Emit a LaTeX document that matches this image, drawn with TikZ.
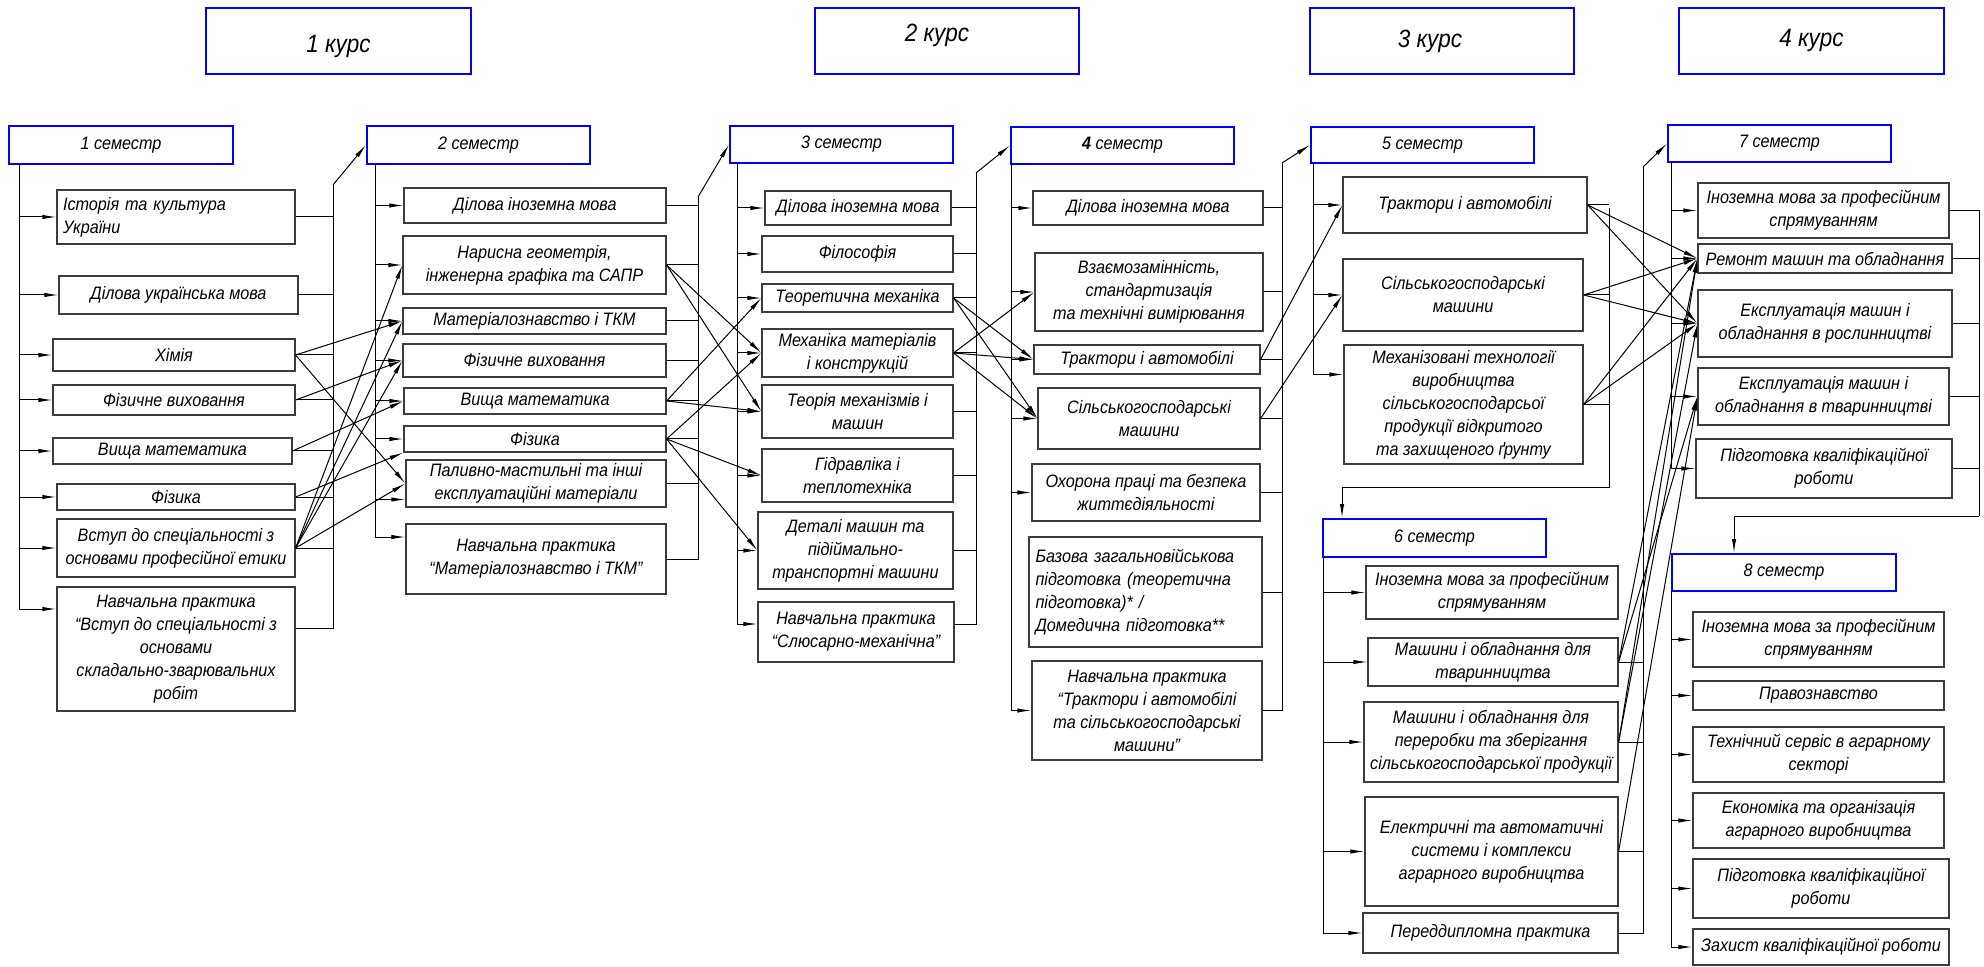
\documentclass[tikz,border=0pt]{standalone}
\usepackage{fontspec}
\setmainfont{Liberation Sans}[FakeStretch=0.9]
\usepackage{tikz}
\usetikzlibrary{arrows.meta}
\definecolor{boxgray}{RGB}{60,60,60}
\newcommand\subjbox[7][]{% options, name, x1, y1, x2, y2, text
  \node[subj,#1,minimum width={(#5-#3)*0.5pt},minimum height={(#6-#4)*0.5pt}]
    (#2) at ({(#3+#5)/2},{(#4+#6)/2}) {#7};
}
\begin{document}
\begin{tikzpicture}[x=0.5pt,y=-0.5pt,line width=0.5pt,
    subj/.style={draw=boxgray,line width=0.6pt,inner sep=1pt,align=center,
      font=\itshape\fontsize{9}{11.5}\selectfont},
    sembox/.style={draw=blue,line width=1pt},
    coursebox/.style={draw=blue,line width=1pt},
    coursetext/.style={font=\itshape\fontsize{12.5}{14}\selectfont},
    arr/.style={-{Latex[length=7pt,width=2.2pt]}}]
  \useasboundingbox (0,0) rectangle (1984,967);

  % courses
  \subjbox[coursebox,label={[coursetext,yshift=-3pt]center:1 курс}]{c1}{206}{8}{471}{74}{}
  \subjbox[coursebox,label={[coursetext,xshift=-5pt,yshift=3pt]center:2 курс}]{c2}{815}{8}{1079}{74}{}
  \subjbox[coursebox,label={[coursetext,xshift=-6pt]center:3 курс}]{c3}{1310}{8}{1574}{74}{}
  \subjbox[coursebox,label={[coursetext]center:4 курс}]{c4}{1679}{8}{1944}{74}{}

  % semesters
  \subjbox[sembox]{sem1}{9}{126}{233}{164}{1 семестр}
  \subjbox[sembox]{sem2}{367}{126}{590}{164}{2 семестр}
  \subjbox[sembox]{sem3}{730}{126}{953}{163}{3 семестр}
  \subjbox[sembox]{sem4}{1011}{127}{1234}{164}{\textbf{4} семестр}
  \subjbox[sembox]{sem5}{1311}{127}{1534}{163}{5 семестр}
  \subjbox[sembox]{sem6}{1323}{519}{1546}{557}{6 семестр}
  \subjbox[sembox]{sem7}{1668}{125}{1891}{162}{7 семестр}
  \subjbox[sembox]{sem8}{1672}{554}{1896}{591}{8 семестр}

  % semester 1
  \subjbox[align=left,text width=113pt]{s1h}{57}{190}{295}{244}{Історія та культура\\України}
  \subjbox{s1d}{59}{276}{298}{314}{Ділова українська мова}
  \subjbox{s1c}{53}{339}{295}{371}{Хімія}
  \subjbox{s1p}{53}{385}{295}{415}{Фізичне виховання}
  \subjbox{s1m}{53}{438}{292}{464}{Вища математика}
  \subjbox{s1f}{57}{484}{295}{510}{Фізика}
  \subjbox{s1v}{57}{519}{295}{577}{Вступ до спеціальності з\\основами професійної етики}
  \subjbox{s1n}{57}{587}{295}{711}{Навчальна практика\\“Вступ до спеціальності з\\основами\\складально-зварювальних\\робіт}
  \coordinate (b1) at (19,164);
  \coordinate (o1) at (333,185);
  \draw[arr] (b1 |- s1h) -- (s1h);
  \draw[arr] (b1 |- s1d) -- (s1d);
  \draw[arr] (b1 |- s1c) -- (s1c);
  \draw[arr] (b1 |- s1p) -- (s1p);
  \draw[arr] (b1 |- s1m) -- (s1m);
  \draw[arr] (b1 |- s1f) -- (s1f);
  \draw[arr] (b1 |- s1v) -- (s1v);
  \draw[arr] (b1) |- ([yshift=20pt]s1n.west);
  \draw (s1h) -- (o1 |- s1h);
  \draw (s1d) -- (o1 |- s1d);
  \draw (s1c) -- (o1 |- s1c);
  \draw (s1p) -- (o1 |- s1p);
  \draw (s1m) -- (o1 |- s1m);
  \draw (s1f) -- (o1 |- s1f);
  \draw (s1v) -- (o1 |- s1v);
  \draw ([yshift=10.5pt]s1n.east) -| (o1);
  \draw[arr] (o1) -- (sem2.west);

  % semester 2
  \subjbox{s2d}{404}{188}{666}{223}{Ділова іноземна мова}
  \subjbox{s2n}{403}{236}{666}{294}{Нарисна геометрія,\\інженерна графіка та САПР}
  \subjbox{s2t}{403}{308}{666}{334}{Матеріалознавство і ТКМ}
  \subjbox{s2p}{403}{344}{666}{377}{Фізичне виховання}
  \subjbox{s2m}{404}{388}{666}{414}{Вища математика}
  \subjbox{s2f}{404}{426}{666}{452}{Фізика}
  \subjbox{s2l}{406}{460}{666}{507}{Паливно-мастильні та інші\\експлуатаційні матеріали}
  \subjbox{s2k}{406}{524}{666}{594}{Навчальна практика\\“Матеріалознавство і ТКМ”}
  \coordinate (b2) at (375,164);
  \coordinate (o2) at (698,197);
  \draw[arr] (b2 |- s2d) -- (s2d);
  \draw[arr] (b2 |- s2n) -- (s2n);
  \draw[arr] (b2 |- s2t) -- (s2t);
  \draw[arr] (b2 |- s2p) -- (s2p);
  \draw[arr] (b2 |- s2m) -- (s2m);
  \draw[arr] (b2 |- s2f) -- (s2f);
  \draw[arr] ([yshift=-8pt]b2 |- s2l) -- ([yshift=-8pt]s2l.west);
  \draw[arr] (b2) |- ([yshift=11pt]s2k.west);
  \draw (s2d) -- (o2 |- s2d);
  \draw (s2n) -- (o2 |- s2n);
  \draw (s2t) -- (o2 |- s2t);
  \draw (s2p) -- (o2 |- s2p);
  \draw (s2m) -- (o2 |- s2m);
  \draw (s2f) -- (o2 |- s2f);
  \draw (s2l) -- (o2 |- s2l);
  \draw (s2k.east) -| (o2);
  \draw[arr] (o2) -- (sem3.west);

  % semester 1 -> semester 2
  \draw[arr] (s1c.east) -- (s2t.west);
  \draw[arr] (s1c.east) -- (s2l.west);
  \draw[arr] (s1p.east) -- (s2p.west);
  \draw[arr] (s1m.east) -- (s2m.west);
  \draw[arr] (s1f.east) -- (s2f.south west);
  \draw[arr] (s1v.east) -- (s2n.west);
  \draw[arr] (s1v.east) -- (s2t.west);
  \draw[arr] (s1v.east) -- (s2p.west);
  \draw[arr] (s1v.east) -- (s2l.west);

  % semester 3
  \subjbox{s3d}{765}{191}{951}{225}{Ділова іноземна мова}
  \subjbox{s3f}{762}{236}{953}{272}{Філософія}
  \subjbox{s3t}{762}{284}{953}{312}{Теоретична механіка}
  \subjbox{s3m}{762}{329}{953}{377}{Механіка матеріалів\\і конструкцій}
  \subjbox{s3k}{762}{385}{953}{438}{Теорія механізмів і\\машин}
  \subjbox{s3g}{762}{449}{953}{502}{Гідравліка і\\теплотехніка}
  \subjbox{s3dm}{758}{512}{953}{589}{Деталі машин та\\підіймально-\\транспортні машини}
  \subjbox{s3n}{758}{602}{954}{662}{Навчальна практика\\“Слюсарно-механічна”}
  \coordinate (b3) at (737,163);
  \coordinate (o3) at (976,173);
  \draw[arr] (b3 |- s3d) -- (s3d);
  \draw[arr] (b3 |- s3f) -- (s3f);
  \draw[arr] (b3 |- s3t) -- (s3t);
  \draw[arr] (b3 |- s3m) -- (s3m);
  \draw[arr] (b3 |- s3k) -- (s3k);
  \draw[arr] (b3 |- s3g) -- (s3g);
  \draw[arr] (b3 |- s3dm) -- (s3dm);
  \draw[arr] (b3) |- ([yshift=4pt]s3n.west);
  \draw (s3d) -- (o3 |- s3d);
  \draw (s3f) -- (o3 |- s3f);
  \draw (s3t) -- (o3 |- s3t);
  \draw (s3m) -- (o3 |- s3m);
  \draw (s3k) -- (o3 |- s3k);
  \draw (s3g) -- (o3 |- s3g);
  \draw (s3dm) -- (o3 |- s3dm);
  \draw ([yshift=4pt]s3n.east) -| (o3);
  \draw[arr] (o3) -- (sem4.west);

  % semester 2 -> semester 3
  \draw[arr] (s2n.east) -- (s3m.west);
  \draw[arr] (s2n.east) -- (s3k.west);
  \draw[arr] (s2m.east) -- (s3t.west);
  \draw[arr] (s2m.east) -- (s3k.west);
  \draw[arr] (s2f.east) -- (s3m.west);
  \draw[arr] (s2f.east) -- (s3g.west);
  \draw[arr] (s2f.east) -- (s3dm.west);

  % semester 4
  \subjbox{s4d}{1033}{191}{1263}{225}{Ділова іноземна мова}
  \subjbox{s4v}{1035}{253}{1263}{331}{Взаємозамінність,\\стандартизація\\та технічні вимірювання}
  \subjbox{s4t}{1034}{345}{1260}{374}{Трактори і автомобілі}
  \subjbox{s4s}{1038}{388}{1260}{449}{Сільськогосподарські\\машини}
  \subjbox{s4o}{1032}{464}{1260}{521}{Охорона праці та безпека\\життєдіяльності}
  \subjbox[align=left,text width=110pt]{s4b}{1029}{537}{1262}{647}{Базова загальновійськова\\підготовка (теоретична\\підготовка)* /\\Домедична підготовка**}
  \subjbox{s4n}{1032}{661}{1262}{760}{Навчальна практика\\“Трактори і автомобілі\\та сільськогосподарські\\машини”}
  \coordinate (b4) at (1011,164);
  \coordinate (o4) at (1282,163);
  \draw[arr] (b4 |- s4d) -- (s4d);
  \draw[arr] (b4 |- s4v) -- (s4v);
  \draw[arr] (b4 |- s4t) -- (s4t);
  \draw[arr] (b4 |- s4s) -- (s4s);
  \draw[arr] (b4 |- s4o) -- (s4o);
  \draw[arr] (b4) |- (s4n.west);
  \draw (s4d) -- (o4 |- s4d);
  \draw (s4v) -- (o4 |- s4v);
  \draw (s4t) -- (o4 |- s4t);
  \draw (s4s) -- (o4 |- s4s);
  \draw (s4o) -- (o4 |- s4o);
  \draw (s4b) -- (o4 |- s4b);
  \draw (s4n.east) -| (o4);
  \draw[arr] (o4) -- (sem5.west);

  % semester 3 -> semester 4
  \draw[arr] (s3t.east) -- (s4t.west);
  \draw[arr] (s3t.east) -- (s4s.west);
  \draw[arr] (s3m.east) -- (s4v.west);
  \draw[arr] (s3m.east) -- (s4t.west);
  \draw[arr] (s3m.east) -- (s4s.west);

  % semester 5
  \subjbox{s5t}{1343}{177}{1587}{233}{Трактори і автомобілі}
  \subjbox{s5s}{1343}{259}{1583}{331}{Сільськогосподарські\\машини}
  \subjbox{s5m}{1344}{345}{1583}{464}{Механізовані технології\\виробництва\\сільськогосподарсьої\\продукції відкритого\\та захищеного ґрунту}
  \coordinate (b5) at (1313,163);
  \coordinate (o5) at (1609,208);
  \coordinate (o5b) at (1609,487);
  \draw[arr] (b5 |- s5t) -- (s5t);
  \draw[arr] (b5 |- s5s) -- (s5s);
  \draw[arr] (b5) |- ([yshift=15pt]s5m.west);
  \draw (s5t) -- (o5 |- s5t);
  \draw (s5s) -- (o5 |- s5s);
  \draw (s5m) -- (o5 |- s5m);
  \draw[arr] (o5) -- (o5b) -| ([xshift=10pt]sem6.north west);

  % semester 4 -> semester 5
  \draw[arr] (s4t.east) -- (s5t.west);
  \draw[arr] (s4s.east) -- (s5s.west);

  % semester 6
  \subjbox{s6i}{1366}{566}{1618}{619}{Іноземна мова за професійним\\спрямуванням}
  \subjbox{s6t}{1368}{638}{1618}{686}{Машини і обладнання для\\тваринництва}
  \subjbox{s6p}{1364}{702}{1618}{782}{Машини і обладнання для\\переробки та зберігання\\сільськогосподарської продукції}
  \subjbox{s6e}{1365}{797}{1618}{906}{Електричні та автоматичні\\системи і комплекси\\аграрного виробництва}
  \subjbox{s6d}{1363}{913}{1618}{953}{Переддипломна практика}
  \coordinate (b6) at (1323,557);
  \coordinate (o6) at (1643,167);
  \draw[arr] (b6 |- s6i) -- (s6i);
  \draw[arr] (b6 |- s6t) -- (s6t);
  \draw[arr] (b6 |- s6p) -- (s6p);
  \draw[arr] (b6 |- s6e) -- (s6e);
  \draw[arr] (b6) |- (s6d.west);
  \draw (s6t) -- (o6 |- s6t);
  \draw (s6p) -- (o6 |- s6p);
  \draw (s6e) -- (o6 |- s6e);
  \draw (s6d.east) -| (o6);
  \draw[arr] (o6) -- (sem7.west);

  % semester 7
  \subjbox{s7i}{1698}{183}{1949}{238}{Іноземна мова за професійним\\спрямуванням}
  \subjbox{s7r}{1698}{244}{1952}{273}{Ремонт машин та обладнання}
  \subjbox{s7e}{1698}{290}{1952}{357}{Експлуатація машин і\\обладнання в рослинництві}
  \subjbox{s7a}{1698}{368}{1949}{425}{Експлуатація машин і\\обладнання в тваринництві}
  \subjbox{s7k}{1696}{439}{1952}{498}{Підготовка кваліфікаційної\\роботи}
  \coordinate (b7) at (1671,162);
  \coordinate (o7) at (1979,516);
  \draw[arr] (b7 |- s7i) -- (s7i);
  \draw[arr] (b7 |- s7r) -- (s7r);
  \draw[arr] (b7 |- s7e) -- (s7e);
  \draw[arr] (b7 |- s7a) -- (s7a);
  \draw[arr] (b7) |- (s7k.west);
  \draw (s7i.east) -| (o7);
  \draw (s7r) -- (o7 |- s7r);
  \draw (s7e) -- (o7 |- s7e);
  \draw (s7a) -- (o7 |- s7a);
  \draw (s7k) -- (o7 |- s7k);
  \draw[arr] (o7) -| ([xshift=31.5pt]sem8.north west);

  % semesters 5, 6 -> semester 7
  \draw[arr] (s5t.east) -- (s7r.west);
  \draw[arr] (s5t.east) -- (s7e.west);
  \draw[arr] (s5s.east) -- (s7r.west);
  \draw[arr] (s5s.east) -- (s7e.west);
  \draw[arr] (s5m.east) -- (s7r.west);
  \draw[arr] (s5m.east) -- (s7e.west);
  \draw[arr] (s6t.east) -- (s7r.west);
  \draw[arr] (s6t.east) -- (s7a.west);
  \draw[arr] (s6p.east) -- (s7r.west);
  \draw[arr] (s6p.east) -- (s7e.west);
  \draw[arr] (s6e.east) -- (s7a.west);

  % semester 8
  \subjbox{s8i}{1693}{612}{1944}{667}{Іноземна мова за професійним\\спрямуванням}
  \subjbox{s8p}{1693}{681}{1944}{710}{Правознавство}
  \subjbox{s8s}{1693}{727}{1944}{782}{Технічний сервіс в аграрному\\секторі}
  \subjbox{s8e}{1693}{793}{1944}{848}{Економіка та організація\\аграрного виробництва}
  \subjbox{s8k}{1693}{859}{1949}{918}{Підготовка кваліфікаційної\\роботи}
  \subjbox{s8z}{1693}{929}{1949}{965}{Захист кваліфікаційної роботи}
  \coordinate (b8) at (1671,591);
  \draw[arr] (b8 |- s8i) -- (s8i);
  \draw[arr] (b8 |- s8p) -- (s8p);
  \draw[arr] (b8 |- s8s) -- (s8s);
  \draw[arr] (b8 |- s8e) -- (s8e);
  \draw[arr] (b8 |- s8k) -- (s8k);
  \draw[arr] (b8) |- (s8z.west);
\end{tikzpicture}
\end{document}
